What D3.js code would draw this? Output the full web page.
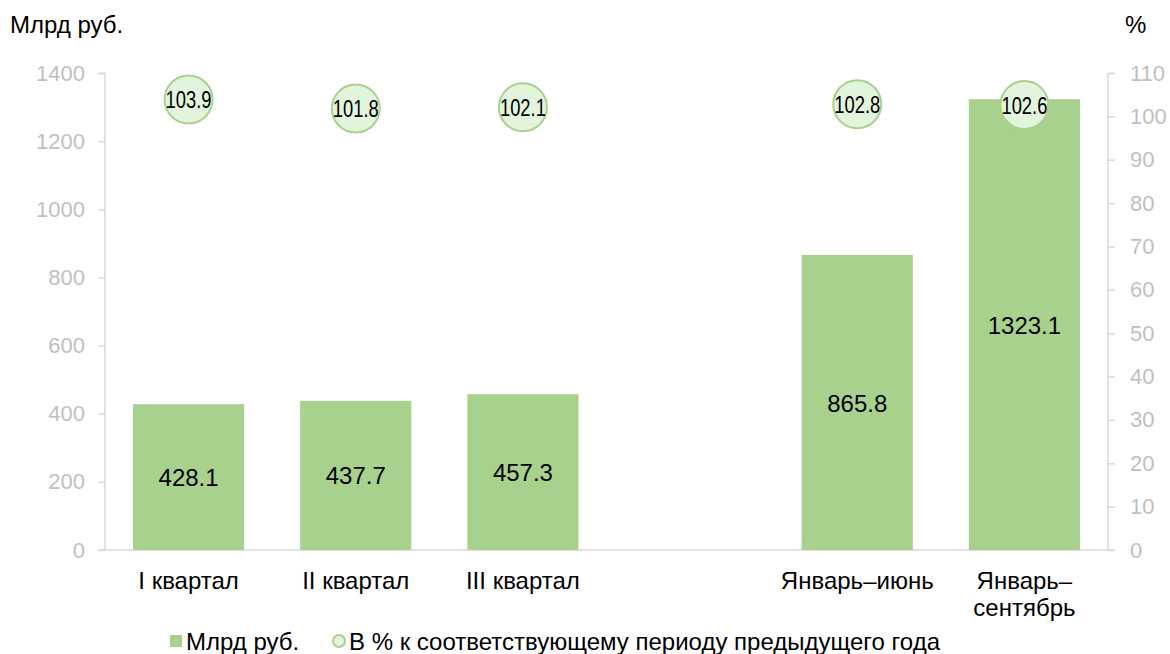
<!DOCTYPE html>
<html>
<head>
<meta charset="utf-8">
<script src="https://cdn.jsdelivr.net/npm/d3@7"></script>
<style>
  body { margin: 0; background: #fff; }
  svg { font-family: "Liberation Sans", Arial, sans-serif; }
</style>
</head>
<body>
<script>
// Categories (empty slot = gap between quarters and cumulative periods)
const categories = [["I квартал"], ["II квартал"], ["III квартал"], [], ["Январь–июнь"], ["Январь–", "сентябрь"]];
const valuesBln = [428.1, 437.7, 457.3, null, 865.8, 1323.1];
const valuesPct = [103.9, 101.8, 102.1, null, 102.8, 102.6];
const leftTicks = [0, 200, 400, 600, 800, 1000, 1200, 1400];
const rightTicks = [0, 10, 20, 30, 40, 50, 60, 70, 80, 90, 100, 110];

const width = 1170, height = 654;
const barColor = "#a9d18e", circleFill = "#e2f5dc", gridGrey = "#d9d9d9", tickGrey = "#bfbfbf";

const svg = d3.select("body").append("svg")
    .attr("width", width)
    .attr("height", height);

const x = d3.scaleBand()
    .domain(d3.range(categories.length))
    .range([105, 1108])
    .padding(0);

const y = d3.scaleLinear().domain([0, 1400]).range([550, 73]);
const y2 = d3.scaleLinear().domain([0, 110]).range([550, 73]);

const barW = x.bandwidth() * 0.665;

// Left axis
const leftAxis = svg.append("g")
    .attr("transform", "translate(105,0)")
    .call(d3.axisLeft(y).tickValues(leftTicks).tickFormat(d3.format("d")).tickSize(7).tickPadding(13));
leftAxis.select(".domain").attr("stroke", gridGrey).attr("stroke-width", 1.5).attr("d", "M-7,73.5H0V550");
leftAxis.selectAll(".tick line").attr("stroke", gridGrey).attr("stroke-width", 1.5);
leftAxis.selectAll(".tick text").attr("fill", tickGrey).style("font-size", "22px").style("font-family", "Liberation Sans, Arial");

// Right axis
const rightAxis = svg.append("g")
    .attr("transform", "translate(1108,0)")
    .call(d3.axisRight(y2).tickValues(rightTicks).tickSize(7).tickPadding(15));
rightAxis.select(".domain").attr("stroke", gridGrey).attr("stroke-width", 1.5).attr("d", "M7,73.5H0V550");
rightAxis.selectAll(".tick line").attr("stroke", gridGrey).attr("stroke-width", 1.5);
rightAxis.selectAll(".tick text").attr("fill", tickGrey).style("font-size", "22px").style("font-family", "Liberation Sans, Arial");

// Baseline
svg.append("line")
    .attr("x1", 98).attr("x2", 1115)
    .attr("y1", y(0)).attr("y2", y(0))
    .attr("stroke", gridGrey).attr("stroke-width", 1.5);

// Bars
const barData = valuesBln.map((v, i) => ({ i, v })).filter(d => d.v !== null);
svg.selectAll(".bar")
    .data(barData)
    .enter().append("rect")
    .attr("class", "bar")
    .attr("x", d => x(d.i) + (x.bandwidth() - barW) / 2)
    .attr("y", d => y(d.v))
    .attr("width", barW)
    .attr("height", d => y(0) - y(d.v))
    .attr("fill", barColor);

// Bar value labels
svg.selectAll(".bar-label")
    .data(barData)
    .enter().append("text")
    .attr("x", d => x(d.i) + x.bandwidth() / 2)
    .attr("y", d => (y(d.v) + y(0)) / 2 + 9)
    .attr("text-anchor", "middle")
    .style("font-size", "24px")
    .attr("fill", "#000")
    .text(d => d.v.toFixed(1));

// Percent circles
const pctData = valuesPct.map((v, i) => ({ i, v })).filter(d => d.v !== null);
const dots = svg.selectAll(".dot")
    .data(pctData)
    .enter().append("g")
    .attr("transform", d => `translate(${x(d.i) + x.bandwidth() / 2},${y2(d.v)})`);
dots.append("circle")
    .attr("r", 24)
    .attr("fill", circleFill)
    .attr("stroke", barColor)
    .attr("stroke-width", 2);
dots.append("text")
    .attr("y", 8.5)
    .attr("text-anchor", "middle")
    .attr("textLength", 46)
    .attr("lengthAdjust", "spacingAndGlyphs")
    .style("font-size", "24px")
    .text(d => d.v.toFixed(1));

// Category labels
svg.selectAll(".cat")
    .data(categories.map((c, i) => ({ c, i })))
    .enter().append("text")
    .attr("text-anchor", "middle")
    .style("font-size", "24px")
    .each(function (d) {
        d3.select(this).selectAll("tspan")
            .data(d.c)
            .enter().append("tspan")
            .attr("x", x(d.i) + x.bandwidth() / 2)
            .attr("y", (t, k) => 589 + k * 27)
            .text(t => t);
    });

// Axis titles
svg.append("text").attr("x", 10).attr("y", 33).style("font-size", "24px").text("Млрд руб.");
svg.append("text").attr("x", 1125).attr("y", 33).style("font-size", "24px").text("%");

// Legend
const legend = svg.append("g");
legend.append("rect").attr("x", 170).attr("y", 635).attr("width", 12).attr("height", 12).attr("fill", barColor);
legend.append("text").attr("x", 186).attr("y", 650).style("font-size", "24px").text("Млрд руб.");
legend.append("circle").attr("cx", 339).attr("cy", 641).attr("r", 6).attr("fill", circleFill).attr("stroke", barColor).attr("stroke-width", 2);
legend.append("text").attr("x", 349).attr("y", 650).style("font-size", "24px").text("В % к соответствующему периоду предыдущего года");
</script>
</body>
</html>
